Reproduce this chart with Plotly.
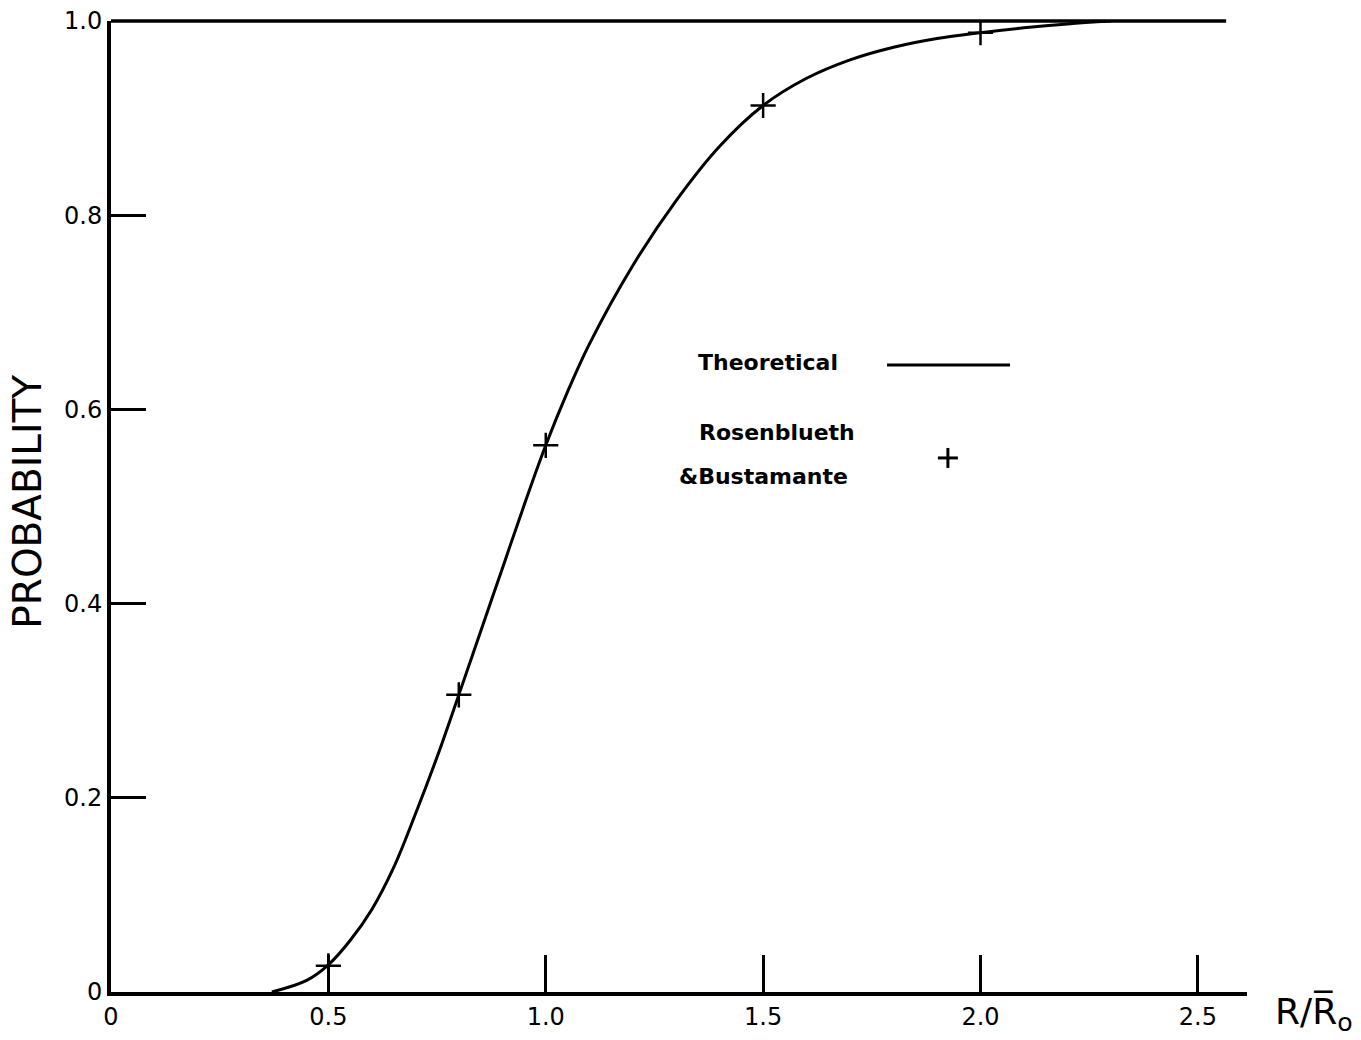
import plotly.graph_objects as go

# ---------------- data ----------------
theory_x = [0.370, 0.450, 0.500, 0.550, 0.600, 0.650, 0.700, 0.750, 0.800, 0.850,
            0.900, 0.950, 1.000, 1.050, 1.100, 1.200, 1.300, 1.400, 1.500, 1.600,
            1.700, 1.800, 1.900, 2.000, 2.100, 2.200, 2.300]
theory_y = [0.000, 0.012, 0.028, 0.053, 0.085, 0.128, 0.183, 0.242, 0.306, 0.371,
            0.436, 0.501, 0.563, 0.618, 0.667, 0.748, 0.815, 0.871, 0.913, 0.941,
            0.960, 0.973, 0.982, 0.988, 0.993, 0.997, 1.000]

rb_x = [0.5, 0.8, 1.0, 1.5, 2.0]
rb_y = [0.027, 0.306, 0.563, 0.913, 0.988]

x_tickvals = [0, 0.5, 1.0, 1.5, 2.0, 2.5]
x_ticktext = ["0", "0.5", "1.0", "1.5", "2.0", "2.5"]
y_tickvals = [0, 0.2, 0.4, 0.6, 0.8, 1.0]
y_ticktext = ["0", "0.2", "0.4", "0.6", "0.8", "1.0"]

legend_theory = "Theoretical"
legend_rb_1 = "Rosenblueth"
legend_rb_2 = "&Bustamante"
y_title = "PROBABILITY"
x_title = "R/R\u0305<sub>o</sub>"

# ---------------- figure ----------------
FONT = "DejaVu Sans"
X_MAX = 2.613
TOP_LINE_END = 2.565

fig = go.Figure()

fig.add_trace(go.Scatter(
    x=theory_x, y=theory_y, mode="lines",
    line=dict(color="black", width=3, shape="spline", smoothing=1.0),
    cliponaxis=False, showlegend=False, hoverinfo="skip"))

fig.add_trace(go.Scatter(
    x=rb_x, y=rb_y, mode="markers",
    marker=dict(symbol="cross-thin", size=18, color="black",
                line=dict(color="black", width=2.5)),
    cliponaxis=False, showlegend=False, hoverinfo="skip"))

fig.update_layout(
    width=1361, height=1040,
    margin=dict(l=111, r=114, t=21, b=48, autoexpand=False),
    paper_bgcolor="white", plot_bgcolor="white",
    showlegend=False,
    font=dict(family=FONT, color="black"),
)

fig.update_xaxes(
    range=[0, X_MAX], showgrid=False, zeroline=False, automargin=False,
    showline=True, linewidth=4, linecolor="black",
    ticks="inside", ticklen=37, tickwidth=2.5, tickcolor="black",
    tickvals=x_tickvals, ticktext=x_ticktext,
    tickfont=dict(family=FONT, size=24, color="black"),
)
fig.update_yaxes(
    range=[0, 1.0], showgrid=False, zeroline=False, automargin=False,
    showline=True, linewidth=4, linecolor="black",
    ticks="inside", ticklen=35, tickwidth=3, tickcolor="black",
    tickvals=y_tickvals, ticktext=y_ticktext,
    tickfont=dict(family=FONT, size=24, color="black"),
)

# top frame line at probability 1.0
fig.add_shape(type="line", xref="x", yref="y domain",
              x0=0, x1=TOP_LINE_END, y0=1, y1=1,
              line=dict(color="black", width=3.5))

# legend block drawn inside the plot
fig.add_annotation(x=1.3455, y=0.6478, xref="x", yref="y", text=legend_theory,
                   showarrow=False, xanchor="left", yanchor="middle",
                   font=dict(family=FONT, size=22, color="black", weight="bold"))
fig.add_shape(type="line", xref="x", yref="y", x0=1.785, x1=2.068, y0=0.6457, y1=0.6457,
              line=dict(color="black", width=3))
fig.add_annotation(x=1.348, y=0.5767, xref="x", yref="y", text=legend_rb_1,
                   showarrow=False, xanchor="left", yanchor="middle",
                   font=dict(family=FONT, size=22, color="black", weight="bold"))
fig.add_annotation(x=1.302, y=0.5304, xref="x", yref="y", text=legend_rb_2,
                   showarrow=False, xanchor="left", yanchor="middle",
                   font=dict(family=FONT, size=22, color="black", weight="bold"))
for (x0, x1, y0, y1) in [(-10, 10, 0, 0), (0, 0, -10, 10)]:
    fig.add_shape(type="line", xref="x", yref="y",
                  xsizemode="pixel", ysizemode="pixel",
                  xanchor=1.925, yanchor=0.550,
                  x0=x0, x1=x1, y0=y0, y1=y1,
                  line=dict(color="black", width=3))

# axis titles
fig.add_annotation(x=-0.073, y=0.505, xref="paper", yref="paper", text=y_title,
                   textangle=-90, showarrow=False, xanchor="center", yanchor="middle",
                   font=dict(family=FONT, size=39, color="black"))
fig.add_annotation(x=1.0229, y=-0.022, xref="paper", yref="paper", text=x_title,
                   showarrow=False, xanchor="left", yanchor="middle",
                   font=dict(family=FONT, size=36, color="black"))

fig.write_html("out.html")
